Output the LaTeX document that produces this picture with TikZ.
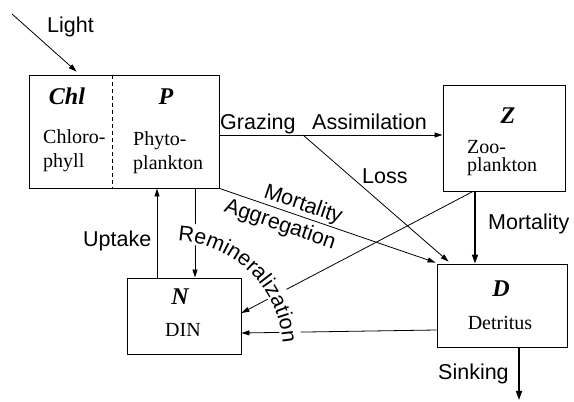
\documentclass[tikz,border=0pt]{standalone}
\usepackage{fontspec}
\setmainfont{Liberation Serif}
\newfontfamily\labfont{Liberation Sans}
\usetikzlibrary{arrows.meta,decorations.text,calc}

\tikzset{
  box/.style={draw, line width=0.9pt, inner sep=0pt},
  flow/.style={line width=0.8pt, -{Triangle[length=8pt,width=5pt]}},
  bigflow/.style={line width=1.6pt, -{Triangle[length=9pt,width=6pt]}},
  lab/.style={font=\labfont\fontsize{21.5}{24}\selectfont, inner sep=0pt},
  sym/.style={font=\fontsize{24}{26}\selectfont\bfseries\itshape, inner sep=0pt},
  desc/.style={font=\fontsize{20}{24}\selectfont, inner sep=0pt},
}

\begin{document}
\begin{tikzpicture}[x=1pt,y=1pt]
\useasboundingbox (0,0) rectangle (574,402);

% compartments
\node[box, minimum width=190pt, minimum height=113pt] (P) at (124,270.5) {};
\node[box, minimum width=122pt, minimum height=106pt] (Z) at (504,264) {};
\node[box, minimum width=114pt, minimum height=76pt] (N) at (184,86) {};
\node[box, minimum width=130pt, minimum height=83pt] (D) at (502,96.5) {};
\draw[line width=0.8pt, dash pattern=on 4pt off 3pt]
  ([xshift=84pt]P.north west) -- ([xshift=84pt]P.south west);

% compartment texts
\node[sym, anchor=base] (chl) at (67,297) {Chl};
\node[sym, anchor=base] (psym) at (166,297) {P};
\node[desc, anchor=base west] (chl1) at (43,258) {Chloro-};
\node[desc, anchor=base west] (chl2) at (43,234) {phyll};
\node[desc, anchor=base west] (p1) at (133,256) {Phyto-};
\node[desc, anchor=base west] (p2) at (133,232) {plankton};
\node[sym, anchor=base] (zsym) at (508,278) {Z};
\node[desc, anchor=base west] (z1) at (467,248) {Zoo-};
\node[desc, anchor=base west] (z2) at (467,230) {plankton};
\node[sym, anchor=base] (nsym) at (180,97) {N};
\node[desc, anchor=base] (din) at (183,65) {DIN};
\node[sym, anchor=base] (dsym) at (501,105) {D};
\node[desc, anchor=base] (det) at (500,72) {Detritus};

% helper coordinates
\coordinate (lightsrc) at (12,388);
\coordinate (gz) at (0,267);
\coordinate (lossfrom) at (303,267);
\coordinate (upx) at (157,0);
\coordinate (remx) at (195,0);
\coordinate (sinkend) at (519,2);
\coordinate (arcc) at (173,51);

% fluxes
\draw[flow] (lightsrc) -- ([xshift=48pt,yshift=3pt]P.north west);
\draw[flow] (P.east |- gz) -- (Z.west |- gz);
\draw[flow] (lossfrom) -- ([shift={(12pt,2pt)}]D.north west);
\draw[bigflow] ([xshift=-29pt]Z.south) -- ([xshift=-27pt]D.north);
\draw[flow] (P.south east) -- ([shift={(-1pt,1pt)}]D.north west);
\draw[flow] ([xshift=-31pt]Z.south) -- ([yshift=3pt]N.east);
\draw[flow] ([yshift=-24.5pt]D.west) -- ([yshift=-17pt]N.east);
\draw[flow] (N.north -| upx) -- (P.south -| upx);
\draw[flow] (P.south -| remx) -- (N.north -| remx);
\draw[bigflow] (D.south -| sinkend) -- (sinkend);

% curved label over the fluxes it crosses
\draw[white, line width=21pt] ($(arcc)+(90:118.5)$) arc[start angle=90, end angle=1, radius=118.5];
\path[decorate, decoration={text along path, text align=center,
  text={|\labfont\fontsize{21.5}{24}\selectfont|Remineralization}}]
  ($(arcc)+(95.8:110)$) arc[start angle=95.8, end angle=-4.2, radius=110];

% flux labels
\node[lab, anchor=base west] (lightlab) at (47,369) {Light};
\node[lab, anchor=base west] (graz) at (220,272) {Grazing};
\node[lab, anchor=base west] (assim) at (312,272) {Assimilation};
\node[lab, anchor=base west] (loss) at (362,218) {Loss};
\node[lab, anchor=base west] (zmort) at (488,172) {Mortality};
\node[lab, rotate=-19] (pmort) at (303,197) {Mortality};
\node[lab, rotate=-19] (aggr) at (280,177) {Aggregation};
\node[lab, anchor=base west] (uptake) at (83,155) {Uptake};
\node[lab, anchor=base west] (sink) at (438,22) {Sinking};
\end{tikzpicture}
\end{document}
